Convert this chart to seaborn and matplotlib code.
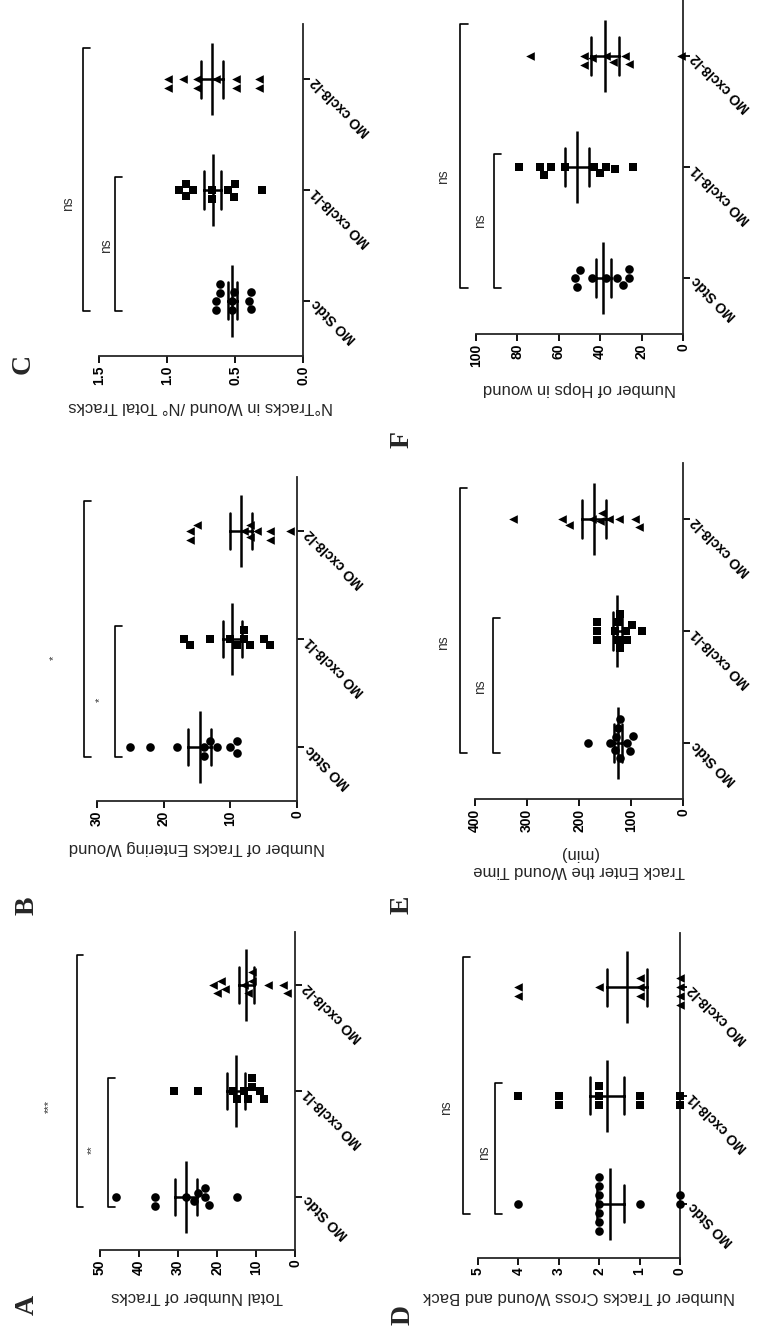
import numpy as np
import pandas as pd
import matplotlib
matplotlib.use('Agg')
import matplotlib.pyplot as plt
import seaborn as sns

sns.set_style('ticks')
plt.rcParams['font.family'] = ['Liberation Sans', 'DejaVu Sans']

groups = ['MO Stdc', 'MO cxcl8-l1', 'MO cxcl8-l2']
markers = ['o', 's', '<']

# A: total number of tracks
a_stdc = [46, 36, 36, 28, 26, 25, 23, 23, 22, 15]
a_l1 = [31, 25, 16, 15, 13, 12, 11, 11, 9, 8]
a_l2 = [21, 20, 19, 18, 13, 12, 11, 11, 7, 3, 2]

# B: tracks entering wound
b_stdc = [25, 22, 18, 14, 14, 13, 12, 10, 9, 9]
b_l1 = [17, 16, 13, 10, 9, 8, 8, 7, 5, 4]
b_l2 = [16, 16, 15, 8, 7, 7, 6, 4, 4, 1]

# C: tracks in wound / total tracks
c_stdc = [0.64, 0.64, 0.61, 0.61, 0.52, 0.52, 0.51, 0.40, 0.38, 0.38]
c_l1 = [0.91, 0.86, 0.86, 0.81, 0.67, 0.67, 0.55, 0.51, 0.50, 0.30]
c_l2 = [0.99, 0.99, 0.88, 0.78, 0.78, 0.64, 0.49, 0.49, 0.32, 0.32]

# D: tracks cross wound and back
d_stdc = [4, 2, 2, 2, 2, 2, 2, 2, 1, 0, 0]
d_l1 = [4, 3, 3, 2, 2, 2, 1, 1, 0, 0]
d_l2 = [4, 4, 2, 1, 1, 1, 0, 0, 0, 0]

# E: time entering the wound (min)
e_stdc = [182, 140, 130, 128, 125, 122, 121, 108, 101, 97]
e_l1 = [166, 166, 166, 130, 125, 125, 121, 121, 110, 108, 98, 79]
e_l2 = [326, 233, 220, 175, 159, 155, 143, 124, 92, 84]

# F: hops in wound
f_stdc = [52, 51, 50, 44, 37, 32, 29, 26, 26]
f_l1 = [79, 69, 67, 64, 57, 43, 40, 37, 33, 24]
f_l2 = [74, 48, 48, 44, 37, 34, 28, 26, 1]

a_ticks = [0, 10, 20, 30, 40, 50]
b_ticks = [0, 10, 20, 30]
c_ticks = [0.0, 0.5, 1.0, 1.5]
c_ticklabels = ['0.0', '0.5', '1.0', '1.5']
d_ticks = [0, 1, 2, 3, 4, 5]
e_ticks = [0, 100, 200, 300, 400]
f_ticks = [0, 20, 40, 60, 80, 100]

W, H = 764, 1338
fig = plt.figure(figsize=(W / 100, H / 100), dpi=100)


def px_axes(x0, x1, y0, y1):
    # pixel box (top-left origin) -> figure axes
    return fig.add_axes([x0 / W, 1 - y1 / H, (x1 - x0) / W, (y1 - y0) / H])


def draw_panel(ax, series, vmax, ticks, ticklabels, label, brackets, sig):
    df = pd.DataFrame({'group': np.repeat(groups, [len(s) for s in series]),
                       'value': np.concatenate(series)})
    for g, m in zip(groups, markers):
        sns.swarmplot(data=df[df.group == g], x='value', y='group', order=groups,
                      orient='h', marker=m, color='black', size=6.2, ax=ax,
                      clip_on=False, zorder=3)
    sns.pointplot(data=df, x='value', y='group', order=groups, orient='h',
                  errorbar='se', capsize=0.34, color='black', markers='|',
                  linestyles='none', markersize=52, markeredgewidth=1.8,
                  err_kws={'linewidth': 1.8}, ax=ax)

    ax.set_xlim(vmax, 0)
    ax.set_ylim(-0.5, 2.5)
    ax.set_xticks(ticks)
    ax.set_xticklabels(ticklabels, rotation=90, fontweight='bold', fontsize=10)
    ax.set_yticks(range(len(groups)))
    ax.set_yticklabels(groups, rotation=135, ha='right', va='center',
                       rotation_mode='anchor', fontweight='bold', fontsize=10)
    ax.yaxis.tick_right()
    ax.set_ylabel('')
    ax.set_xlabel(label, rotation=180, fontsize=12, labelpad=10)
    ax.tick_params(axis='x', length=5, width=1.3, pad=2, colors='black')
    ax.tick_params(axis='y', length=5, width=1.3, pad=3, colors='black')
    for s in ['top', 'left']:
        ax.spines[s].set_visible(False)
    for s in ['bottom', 'right']:
        ax.spines[s].set_linewidth(1.3)

    # significance brackets
    tick = vmax * 0.035
    for v, c1 in zip(brackets, [1.12, 2.28]):
        ax.plot([v - tick, v, v, v - tick], [-0.09, -0.09, c1, c1],
                color='black', lw=1.2, clip_on=False)
    for (v, c), txt in sig:
        ax.text(v, c, txt, rotation=90, ha='center', va='center',
                fontsize=10 if txt == 'ns' else 8, color='#333333', clip_on=False)


ax_a = px_axes(100, 295, 932, 1250)
draw_panel(ax_a, [a_stdc, a_l1, a_l2], 50, a_ticks, a_ticks,
           'Total Number of Tracks', [48, 56],
           [((52, 0.45), '**'), ((63, 0.85), '***')])

ax_b = px_axes(97, 297, 477, 801)
draw_panel(ax_b, [b_stdc, b_l1, b_l2], 30, b_ticks, b_ticks,
           'Number of Tracks Entering Wound', [27.3, 32],
           [((29.5, 0.44), '*'), ((36.4, 0.83), '*')])

ax_c = px_axes(99, 303, 24, 356)
draw_panel(ax_c, [c_stdc, c_l1, c_l2], 1.5, c_ticks, c_ticklabels,
           'N°Tracks in Wound /N° Total Tracks', [1.38, 1.62],
           [((1.45, 0.5), 'ns'), ((1.73, 0.88), 'ns')])

ax_d = px_axes(478, 680, 933, 1258)
draw_panel(ax_d, [d_stdc, d_l1, d_l2], 5, d_ticks, d_ticks,
           'Number of Tracks Cross Wound and Back', [4.59, 5.38],
           [((4.86, 0.47), 'ns'), ((5.79, 0.89), 'ns')])

ax_e = px_axes(475, 683, 463, 799)
draw_panel(ax_e, [e_stdc, e_l1, e_l2], 400, e_ticks, e_ticks,
           'Track Enter the Wound Time\n(min)', [365, 429],
           [((390, 0.5), 'ns'), ((461, 0.9), 'ns')])

ax_f = px_axes(476, 683, 0, 334)
draw_panel(ax_f, [f_stdc, f_l1, f_l2], 100, f_ticks, f_ticks,
           'Number of Hops in wound', [91.5, 107.6],
           [((98, 0.52), 'ns'), ((115.7, 0.91), 'ns')])

# panel letters
for letter, (x, y) in zip('ABCDEF', [(27, 1305), (27, 906), (23, 364),
                                     (403, 1315), (402, 905), (402, 440)]):
    fig.text(x / W, 1 - y / H, letter, rotation=90, ha='center', va='center',
             fontsize=20, fontweight='bold', family='Liberation Serif')

fig.savefig('out.png', dpi=100)
